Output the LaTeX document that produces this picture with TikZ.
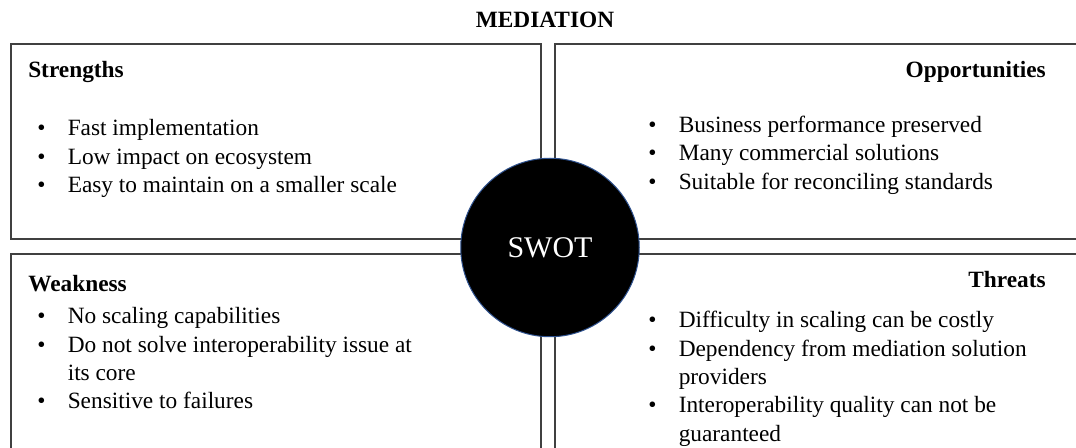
\documentclass[tikz,border=0pt]{standalone}
\usepackage{fontspec}
\setmainfont{Liberation Serif}
\newdimen\px
\px=0.75pt
\definecolor{boxline}{HTML}{404040}
\definecolor{rimblue}{HTML}{2F528F}
\tikzset{
  quad/.style={draw=boxline, line width=1.2\px},
  head/.style={inner sep=0pt, font=\fontsize{17.5}{21.2}\selectfont\bfseries},
  items/.style={inner sep=0pt, font=\fontsize{17.5}{21.2}\selectfont, anchor=base west},
  core/.style={circle, fill=black, draw=rimblue, line width=1\px, minimum size=178.5\px, inner sep=0pt,
    text=white, font=\fontsize{22.5}{27}\selectfont}
}
\newcommand{\itemrows}[1]{\begin{tabular}[t]{@{}p{30.5\px}@{}l@{}}#1\end{tabular}}
\begin{document}
\begin{tikzpicture}[x=0.75pt, y=-0.75pt]
\useasboundingbox[fill=white] (0,0) rectangle (1076,448);
% title
\node[head, anchor=base] (title) at (545,28) {MEDIATION};
% quadrants
\draw[quad] (11,44) rectangle (541,239);
\draw[quad] (555,44) rectangle (1090,239);
\draw[quad] (11,254) rectangle (541,460);
\draw[quad] (555,254) rectangle (1090,460);
% headings
\node[head, anchor=base west] (sh) at (28,78) {Strengths};
\node[head, anchor=base east] (oh) at (1046,78) {Opportunities};
\node[head, anchor=base west] (wh) at (28,292) {Weakness};
\node[head, anchor=base east] (th) at (1046,288) {Threats};
% lists
\node[items] (sl) at (37,136) {\itemrows{%
  \textbullet & Fast implementation\\
  \textbullet & Low impact on ecosystem\\
  \textbullet & Easy to maintain on a smaller scale}};
\node[items] (ol) at (648,132.5) {\itemrows{%
  \textbullet & Business performance preserved\\
  \textbullet & Many commercial solutions\\
  \textbullet & Suitable for reconciling standards}};
\node[items] (wl) at (37,324) {\itemrows{%
  \textbullet & No scaling capabilities\\
  \textbullet & Do not solve interoperability issue at\\
              & its core\\
  \textbullet & Sensitive to failures}};
\node[items] (tl) at (648,328) {\itemrows{%
  \textbullet & Difficulty in scaling can be costly\\
  \textbullet & Dependency from mediation solution\\
              & providers\\
  \textbullet & Interoperability quality can not be\\
              & guaranteed}};
% centre
\node[core] (swot) at (550,247.5) {SWOT};
\end{tikzpicture}
\end{document}
